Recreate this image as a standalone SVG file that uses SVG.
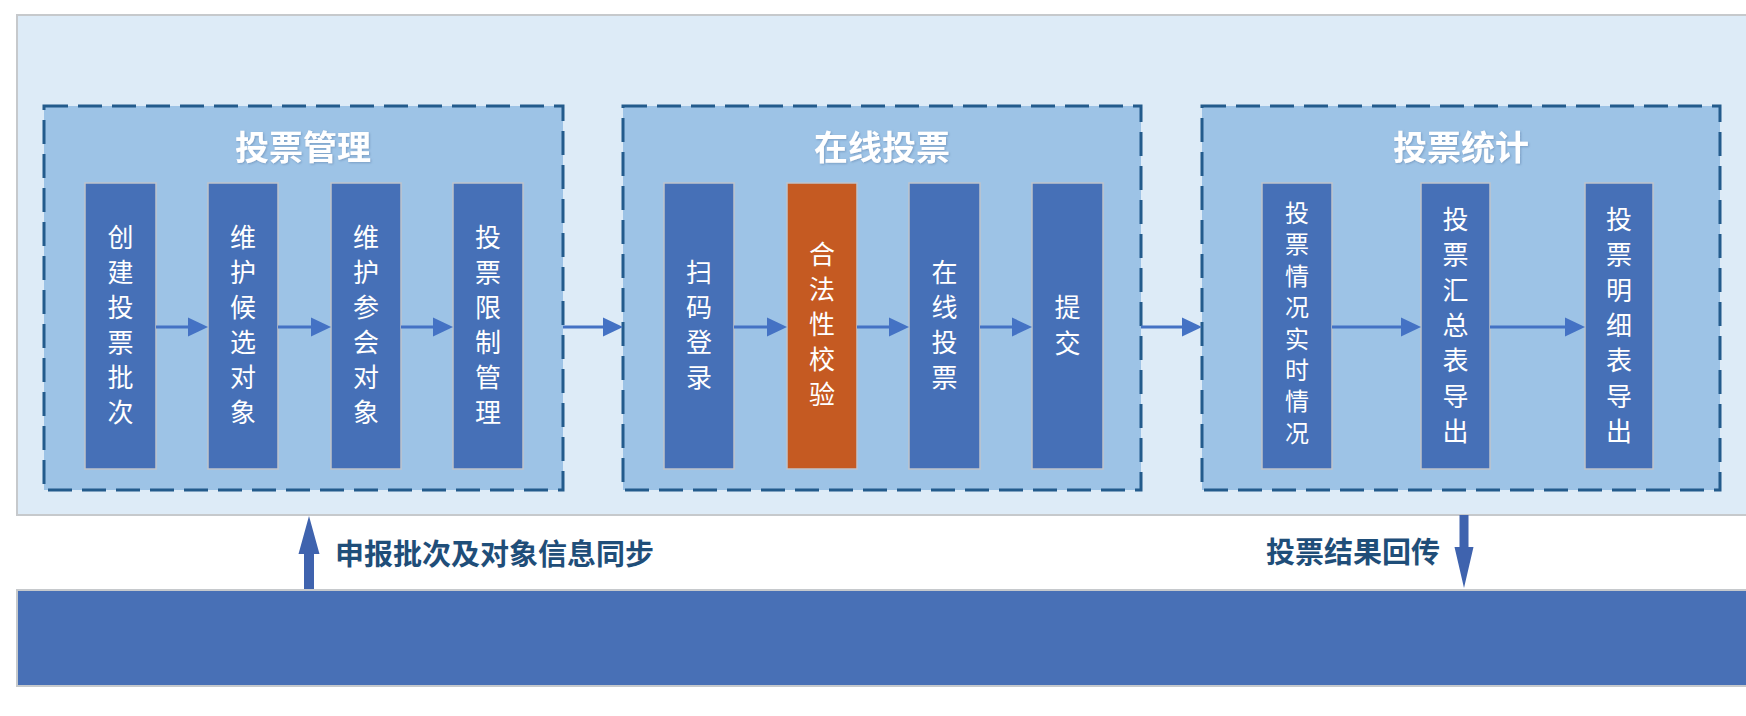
<svg xmlns="http://www.w3.org/2000/svg" width="1746" height="716" viewBox="0 0 1746 716">
<defs>
<style>
.bg{fill:#DDEBF7;stroke:#C6C9CC;stroke-width:2}
.grp{fill:#9DC3E6;stroke:#235B8C;stroke-width:3;stroke-dasharray:24 10}
.node{fill:#4670B7;stroke:#BFC4CC;stroke-width:1.5}
.hl{fill:#C55A22;stroke:#BFC4CC;stroke-width:1.5}
.bar{fill:#4870B6;stroke:#C6C9CC;stroke-width:2}
.ntx{font-family:"Noto Sans CJK SC","Noto Sans",sans-serif;font-size:26px;fill:#FFFFFF;text-anchor:middle}
.ttl{font-family:"Noto Sans CJK SC","Noto Sans",sans-serif;font-size:34px;font-weight:bold;fill:#FFFFFF;text-anchor:middle}
.lbl{font-family:"Noto Sans CJK SC","Noto Sans",sans-serif;font-size:29px;font-weight:bold;fill:#1F4E79}
.ln{stroke:#4472C4;stroke-width:3;fill:none}
.va{fill:#3F63AE}
</style>
<marker id="ah" markerUnits="userSpaceOnUse" markerWidth="20" markerHeight="20" refX="2" refY="10" orient="auto">
<path d="M0,0.5 L20,10 L0,19.5 Z" fill="#4472C4"/>
</marker>
<filter id="sh" x="-10%" y="-20%" width="120%" height="140%">
<feDropShadow dx="1" dy="1" stdDeviation="0.8" flood-color="#6A8DB5" flood-opacity="0.7"/>
</filter>
</defs>

<rect class="bg" x="17" y="15" width="1740" height="500"/>
<rect class="bar" x="17" y="590" width="1740" height="96"/>

<g id="group-manage">
<rect class="grp" x="44" y="106" width="519" height="384"/>
<text class="ttl" x="303" y="160" filter="url(#sh)">投票管理</text>
</g>
<g id="group-online">
<rect class="grp" x="623" y="106" width="518" height="384"/>
<text class="ttl" x="882" y="160" filter="url(#sh)">在线投票</text>
</g>
<g id="group-stat">
<rect class="grp" x="1202" y="106" width="518" height="384"/>
<text class="ttl" x="1461" y="160" filter="url(#sh)">投票统计</text>
</g>

<g id="n1"><rect class="node" x="85" y="183" width="71" height="286"/>
<text class="ntx"><tspan x="120.5" y="247">创</tspan><tspan x="120.5" y="282">建</tspan><tspan x="120.5" y="317">投</tspan><tspan x="120.5" y="352">票</tspan><tspan x="120.5" y="387">批</tspan><tspan x="120.5" y="422">次</tspan></text></g>
<g id="n2"><rect class="node" x="208" y="183" width="70" height="286"/>
<text class="ntx"><tspan x="243" y="247">维</tspan><tspan x="243" y="282">护</tspan><tspan x="243" y="317">候</tspan><tspan x="243" y="352">选</tspan><tspan x="243" y="387">对</tspan><tspan x="243" y="422">象</tspan></text></g>
<g id="n3"><rect class="node" x="331" y="183" width="70" height="286"/>
<text class="ntx"><tspan x="366" y="247">维</tspan><tspan x="366" y="282">护</tspan><tspan x="366" y="317">参</tspan><tspan x="366" y="352">会</tspan><tspan x="366" y="387">对</tspan><tspan x="366" y="422">象</tspan></text></g>
<g id="n4"><rect class="node" x="453" y="183" width="70" height="286"/>
<text class="ntx"><tspan x="488" y="247">投</tspan><tspan x="488" y="282">票</tspan><tspan x="488" y="317">限</tspan><tspan x="488" y="352">制</tspan><tspan x="488" y="387">管</tspan><tspan x="488" y="422">理</tspan></text></g>

<g id="n5"><rect class="node" x="664" y="183" width="70" height="286"/>
<text class="ntx"><tspan x="699" y="282">扫</tspan><tspan x="699" y="317">码</tspan><tspan x="699" y="352">登</tspan><tspan x="699" y="387">录</tspan></text></g>
<g id="n6"><rect class="hl" x="787" y="183" width="70" height="286"/>
<text class="ntx"><tspan x="822" y="264">合</tspan><tspan x="822" y="299">法</tspan><tspan x="822" y="334">性</tspan><tspan x="822" y="369">校</tspan><tspan x="822" y="404">验</tspan></text></g>
<g id="n7"><rect class="node" x="909" y="183" width="71" height="286"/>
<text class="ntx"><tspan x="944.5" y="282">在</tspan><tspan x="944.5" y="317">线</tspan><tspan x="944.5" y="352">投</tspan><tspan x="944.5" y="387">票</tspan></text></g>
<g id="n8"><rect class="node" x="1032" y="183" width="71" height="286"/>
<text class="ntx"><tspan x="1067.5" y="317">提</tspan><tspan x="1067.5" y="353">交</tspan></text></g>

<g id="n9"><rect class="node" x="1262" y="183" width="70" height="286"/>
<text class="ntx" style="font-size:24px"><tspan x="1297" y="222">投</tspan><tspan x="1297" y="253.4">票</tspan><tspan x="1297" y="284.8">情</tspan><tspan x="1297" y="316.2">况</tspan><tspan x="1297" y="347.6">实</tspan><tspan x="1297" y="379">时</tspan><tspan x="1297" y="410.4">情</tspan><tspan x="1297" y="441.8">况</tspan></text></g>
<g id="n10"><rect class="node" x="1421" y="183" width="69" height="286"/>
<text class="ntx"><tspan x="1455.5" y="229">投</tspan><tspan x="1455.5" y="264.3">票</tspan><tspan x="1455.5" y="299.6">汇</tspan><tspan x="1455.5" y="334.9">总</tspan><tspan x="1455.5" y="370.2">表</tspan><tspan x="1455.5" y="405.5">导</tspan><tspan x="1455.5" y="440.8">出</tspan></text></g>
<g id="n11"><rect class="node" x="1585" y="183" width="68" height="286"/>
<text class="ntx"><tspan x="1619" y="229">投</tspan><tspan x="1619" y="264.3">票</tspan><tspan x="1619" y="299.6">明</tspan><tspan x="1619" y="334.9">细</tspan><tspan x="1619" y="370.2">表</tspan><tspan x="1619" y="405.5">导</tspan><tspan x="1619" y="440.8">出</tspan></text></g>

<g id="connectors">
<line class="ln" x1="156" y1="327" x2="190" y2="327" marker-end="url(#ah)"/>
<line class="ln" x1="278" y1="327" x2="313" y2="327" marker-end="url(#ah)"/>
<line class="ln" x1="401" y1="327" x2="435" y2="327" marker-end="url(#ah)"/>
<line class="ln" x1="563" y1="327" x2="605" y2="327" marker-end="url(#ah)"/>
<line class="ln" x1="734" y1="327" x2="769" y2="327" marker-end="url(#ah)"/>
<line class="ln" x1="857" y1="327" x2="891" y2="327" marker-end="url(#ah)"/>
<line class="ln" x1="980" y1="327" x2="1014" y2="327" marker-end="url(#ah)"/>
<line class="ln" x1="1141" y1="327" x2="1184" y2="327" marker-end="url(#ah)"/>
<line class="ln" x1="1332" y1="327" x2="1403" y2="327" marker-end="url(#ah)"/>
<line class="ln" x1="1490" y1="327" x2="1567" y2="327" marker-end="url(#ah)"/>
<polygon class="va" points="304,589 314,589 314,554 319.5,554 309,516 298.5,554 304,554"/>
<polygon class="va" points="1459.5,515 1468.5,515 1468.5,547 1473.5,547 1464,588 1454.5,547 1459.5,547"/>
<text class="lbl" x="335" y="565">申报批次及对象信息同步</text>
<text class="lbl" x="1266" y="563">投票结果回传</text>
</g>
</svg>
